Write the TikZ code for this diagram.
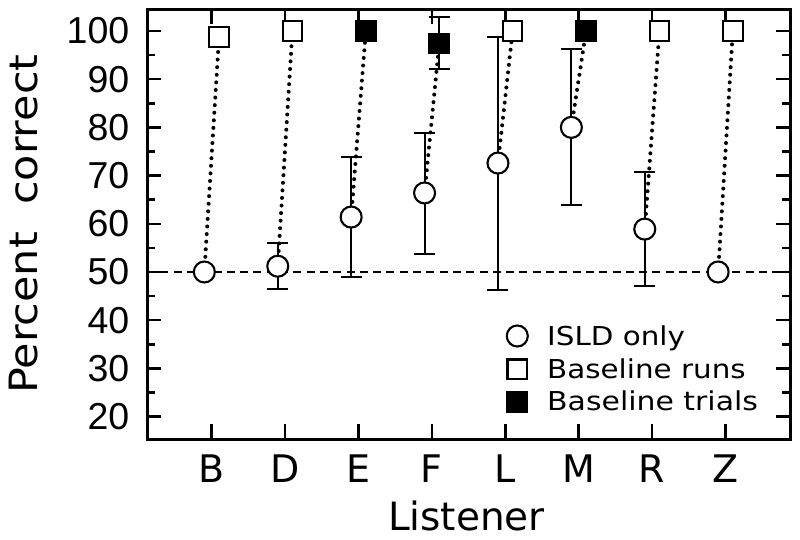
\documentclass[tikz,border=0pt]{standalone}
\usepackage{fontspec}
\setmainfont{DejaVu Sans}
\newfontfamily\numfont{Liberation Sans}
\usepackage{graphicx}
\pgfdeclarelayer{back}
\pgfdeclarelayer{bg}
\pgfsetlayers{back,bg,main}
\newcommand\myerr[3]{\draw[errbar] (#1,#2) -- (#1,#3) (#1,#2) ++(-10.5pt,0) -- ++(21pt,0) (#1,#3) ++(-10.5pt,0) -- ++(21pt,0);}
\begin{document}
\begin{tikzpicture}[x=1pt,y=1pt,
  frame/.style={line width=3pt, line join=miter},
  tickline/.style={line width=2.5pt},
  errbar/.style={line width=2pt},
  linkdots/.style={line width=4pt, line cap=round, dash pattern=on 0pt off 7.6pt},
  refline/.style={line width=1.6pt, dash pattern=on 8pt off 5.3pt},
  circmark/.style={circle, draw, line width=2.1pt, fill=white, minimum size=21pt, inner sep=0pt},
  sqopen/.style={rectangle, draw, line width=2.2pt, fill=white, minimum size=19.5pt, inner sep=0pt},
  sqfill/.style={sqopen, fill=black},
  numlab/.style={anchor=east, inner sep=0pt, font=\numfont\fontsize{37.5}{40}\selectfont},
  catlab/.style={inner sep=0pt, font=\fontsize{38}{40}\selectfont},
  titlelab/.style={inner sep=0pt, font=\fontsize{39}{42}\selectfont},
  legtext/.style={anchor=base west, inner sep=0pt, font=\fontsize{26}{30}\selectfont},
]
\useasboundingbox (0,0) rectangle (800,540);
\begin{pgfonlayer}{back}
\fill[white] (0,0) rectangle (800,540);
\end{pgfonlayer}

% y tick labels
\foreach \v in {20,30,...,100} {
  \node[numlab] (yl\v) at (129.5,{27+4.82*\v}) {\v};
}

\begin{scope}[shift={(211.7pt,27pt)}, x=73.4pt, y=4.82pt]
  \coordinate (fSW) at (-0.881,15.35);
  \coordinate (fNE) at (7.879,104.56);
  % ticks
  \foreach \v in {20,30,...,100} {
    \draw[tickline] (-0.881,\v) -- ++(14pt,0);
    \draw[tickline] (7.879,\v) -- ++(-14pt,0);
  }
  \foreach \v in {25,35,...,95} {
    \draw[tickline] (-0.881,\v) -- ++(8pt,0);
    \draw[tickline] (7.879,\v) -- ++(-8pt,0);
  }
  \foreach \i in {0,...,7} {
    \draw[tickline] (\i,15.35) -- ++(0,15pt);
    \draw[tickline] (\i,104.56) -- ++(0,-15pt);
  }

  % ISLD only (circles)
  \node[circmark] (cB) at (-0.1,50) {};
  \node[circmark] (cD) at (0.9,51.2) {};
  \node[circmark] (cE) at (1.9,61.4) {};
  \node[circmark] (cF) at (2.9,66.4) {};
  \node[circmark] (cL) at (3.9,72.6) {};
  \node[circmark] (cM) at (4.9,80) {};
  \node[circmark] (cR) at (5.9,58.9) {};
  \node[circmark] (cZ) at (6.9,50) {};

  % baseline (squares)
  \node[sqopen] (sB) at (0.1,98.75) {};
  \node[sqopen] (sD) at (1.1,100) {};
  \node[sqfill] (sE) at (2.1,100) {};
  \node[sqfill] (sF) at (3.1,97.4) {};
  \node[sqopen] (sL) at (4.1,100) {};
  \node[sqfill] (sM) at (5.1,100) {};
  \node[sqopen] (sR) at (6.1,100) {};
  \node[sqopen] (sZ) at (7.1,100) {};

  \begin{pgfonlayer}{bg}
    \draw[refline] (-0.881,50) -- (7.879,50);
    \foreach \n in {B,D,E,F,L,M,R,Z} {
      \draw[linkdots] (c\n.center) -- (s\n.center);
    }
    \myerr{0.9}{46.5}{56.1}
    \myerr{1.9}{49}{73.9}
    \myerr{2.9}{53.8}{78.8}
    \myerr{3.1}{92.1}{102.8}
    \myerr{3.9}{46.2}{98.8}
    \myerr{4.9}{63.8}{96.3}
    \myerr{5.9}{47}{70.7}
  \end{pgfonlayer}

  \draw[frame] (fSW) rectangle (fNE);

  % category labels
  \foreach \lab [count=\i from 0] in {B,D,E,F,L,M,R,Z} {
    \node[catlab] (x\lab) at (\i,9.13) {\lab};
  }
\end{scope}

% axis titles
\node[titlelab] (xtitle) at (466.5,24) {Listener};
\node[titlelab, rotate=90] (ytitle) at (24,316) {\scalebox{1.1}[1]{Percent\ \ correct}};

% legend
\node[circmark] (lc) at (517.3,204) {};
\node[sqopen] (ls) at (517.3,170.7) {};
\node[sqfill] (lf) at (517.3,138.3) {};
\node[legtext] (lct) at (547,194.3) {\scalebox{1.13}[1]{ISLD only}};
\node[legtext] (lst) at (547,161.7) {\scalebox{1.13}[1]{Baseline runs}};
\node[legtext] (lft) at (547,129) {\scalebox{1.15}[1]{Baseline trials}};
\end{tikzpicture}
\end{document}
